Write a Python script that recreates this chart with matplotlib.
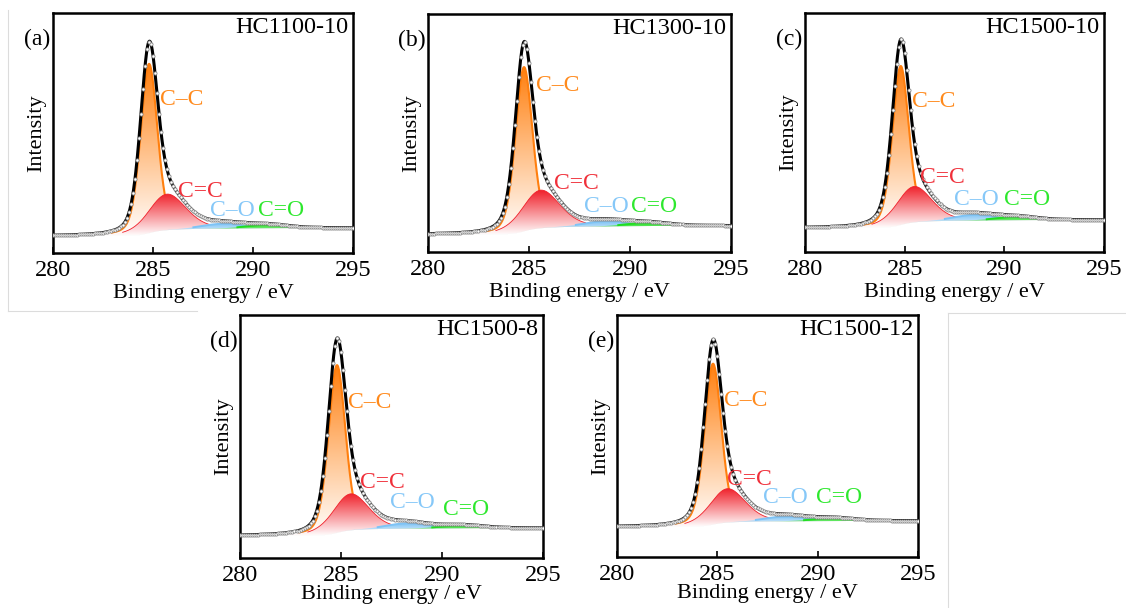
import numpy as np
import matplotlib
matplotlib.use("Agg")
import matplotlib.pyplot as plt
from matplotlib.colors import to_rgb
from matplotlib.lines import Line2D

plt.rcParams['font.family'] = ['Liberation Serif', 'DejaVu Serif']

# C 1s fits, one entry per sample
samples = ["HC1100-10", "HC1300-10", "HC1500-10", "HC1500-8", "HC1500-12"]
tags = ["(a)", "(b)", "(c)", "(d)", "(e)"]

# C-C (sp3)
cc_center = [284.80, 284.75, 284.80, 284.80, 284.78]
cc_height = [0.705, 0.690, 0.665, 0.690, 0.665]
cc_fwhm = [1.00, 1.00, 0.98, 1.00, 1.00]
# C=C (sp2)
c2_center = [285.70, 285.58, 285.47, 285.48, 285.50]
c2_height = [0.150, 0.160, 0.150, 0.150, 0.140]
c2_fwhm = [2.20, 2.20, 2.10, 2.10, 2.10]
# C-O
co_center = [288.5, 288.8, 288.5, 288.3, 288.4]
co_height = [0.020, 0.022, 0.024, 0.022, 0.020]
co_fwhm = [2.4, 2.4, 2.4, 2.4, 2.4]
# C=O
cdo_center = [290.7, 290.9, 290.6, 291.0, 290.8]
cdo_height = [0.014, 0.014, 0.014, 0.012, 0.012]
cdo_fwhm = [2.4, 2.4, 2.4, 2.4, 2.4]
# Shirley background end points
bg_left = [0.070, 0.073, 0.100, 0.091, 0.124]
bg_right = [0.104, 0.110, 0.134, 0.123, 0.149]

# panel boxes [left, bottom, width, height] in figure fraction
boxes = [
    [0.0471, 0.5839, 0.2664, 0.3947],
    [0.3801, 0.5855, 0.2691, 0.3914],
    [0.7149, 0.5855, 0.2655, 0.3931],
    [0.2131, 0.0822, 0.2691, 0.3997],
    [0.5480, 0.0839, 0.2673, 0.3980],
]
xlabel_pad = [2, 2, 2, -1, -1]
# label anchors (eV, axes fraction): C-C, C=C, C-O, C=O
label_pos = [
    [(285.35, 0.64), (286.25, 0.255), (287.85, 0.175), (290.25, 0.175)],
    [(285.33, 0.70), (286.24, 0.29), (287.70, 0.19), (290.05, 0.19)],
    [(285.37, 0.63), (285.77, 0.31), (287.50, 0.22), (290.00, 0.22)],
    [(285.35, 0.64), (285.94, 0.31), (287.43, 0.23), (290.05, 0.20)],
    [(285.33, 0.645), (285.50, 0.32), (287.25, 0.245), (289.90, 0.245)],
]

c_cc = "#ff7f0e"
c_c2 = "#f0202a"
c_co = "#7ec3f5"
c_cdo = "#22dd22"
text_cols = ["#ff8a1c", "#f0303a", "#86c8f8", "#2ee82e"]
label_txt = ["C\u2013C", "C=C", "C\u2013O", "C=O"]

E = np.arange(280.0, 295.0001, 0.02)


def gl(x, c, h, w, mix=0.3):
    g = np.exp(-4 * np.log(2) * ((x - c) / w) ** 2)
    lor = 1.0 / (1.0 + 4 * ((x - c) / w) ** 2)
    return h * ((1 - mix) * g + mix * lor)


def gradient_fill(ax, x, lower, upper, color, z):
    poly = ax.fill_between(x, lower, upper, facecolor='none', edgecolor='none')
    path = poly.get_paths()[0]
    y0, y1 = lower.min(), upper.max()
    t = np.linspace(0, 1, 256)[:, None, None]
    rgb = np.array(to_rgb(color))[None, None, :]
    img = (1 - t) * np.ones((1, 1, 3)) + t * rgb
    im = ax.imshow(img, extent=[x[0], x[-1], y0, y1], origin='lower',
                   aspect='auto', zorder=z, interpolation='bicubic')
    im.set_clip_path(path, ax.transData)


def outline(ax, x, base, comp, color, lw, z, frac=0.08):
    # draw the component edge only where the peak stands clear of the background
    y = np.where(comp > frac * comp.max(), base + comp, np.nan)
    ax.plot(x, y, color=color, lw=lw, zorder=z)


fig = plt.figure(figsize=(11.26, 6.08), dpi=100)

for i in range(5):
    ax = fig.add_axes(boxes[i])
    p_cc = gl(E, cc_center[i], cc_height[i], cc_fwhm[i])
    p_c2 = gl(E, c2_center[i], c2_height[i], c2_fwhm[i])
    p_co = gl(E, co_center[i], co_height[i], co_fwhm[i], mix=0.1)
    p_cdo = gl(E, cdo_center[i], cdo_height[i], cdo_fwhm[i], mix=0.1)
    total = p_cc + p_c2 + p_co + p_cdo
    frac = np.cumsum(total) / np.sum(total)
    bg = bg_left[i] + (bg_right[i] - bg_left[i]) * frac
    env = bg + total

    gradient_fill(ax, E, bg, bg + p_cc, c_cc, 1)
    outline(ax, E, bg, p_cc, c_cc, 1.5, 2, frac=0.02)
    gradient_fill(ax, E, bg, bg + p_c2, c_c2, 3)
    outline(ax, E, bg, p_c2, c_c2, 0.6, 3.1, frac=0.1)
    gradient_fill(ax, E, bg, bg + p_co, c_co, 3.2)
    outline(ax, E, bg, p_co, c_co, 1.4, 3.3, frac=0.35)
    gradient_fill(ax, E, bg, bg + p_cdo, c_cdo, 3.4)
    outline(ax, E, bg, p_cdo, c_cdo, 1.4, 3.5, frac=0.35)

    ax.plot(E, env, color='black', lw=2.2, zorder=5)
    ax.plot(E[::5], env[::5], ls='none', marker='o', ms=2.3, mfc='white',
            mec='#8a8a8a', mew=0.6, zorder=6)

    for (lx, ly), txt, col in zip(label_pos[i], label_txt, text_cols):
        ax.text(lx, ly, txt, color=col, fontsize=17, ha='left', va='center',
                transform=ax.get_xaxis_transform(), zorder=7)

    ax.text(0.985, 0.985, samples[i], transform=ax.transAxes, ha='right',
            va='top', fontsize=17.5)
    ax.text(-0.008, 0.89, tags[i], transform=ax.transAxes, ha='right',
            va='center', fontsize=17)

    ax.set_xlim(280, 295)
    ax.set_ylim(0, 1)
    ax.set_xticks([280, 285, 290, 295])
    ax.set_yticks([])
    ax.tick_params(axis='x', direction='in', length=4, width=1.2,
                   labelsize=17.5, pad=5)
    for s in ax.spines.values():
        s.set_linewidth(1.8)
    ax.set_xlabel("Binding energy / eV", fontsize=16, labelpad=xlabel_pad[i])
    ax.set_ylabel("Intensity", fontsize=16, labelpad=5)

# faint frame lines around the sub-figures
W, H = 1126.0, 608.0
edge = '#dcdcdc'
for (x0, y0, x1, y1) in [(8, 10, 8, 311), (8, 311, 197, 311),
                         (948, 313, 1126, 313), (948, 313, 948, 608)]:
    fig.add_artist(Line2D([x0 / W, x1 / W], [1 - y0 / H, 1 - y1 / H],
                          color=edge, lw=0.8, transform=fig.transFigure))

fig.savefig("out.png", dpi=100)
